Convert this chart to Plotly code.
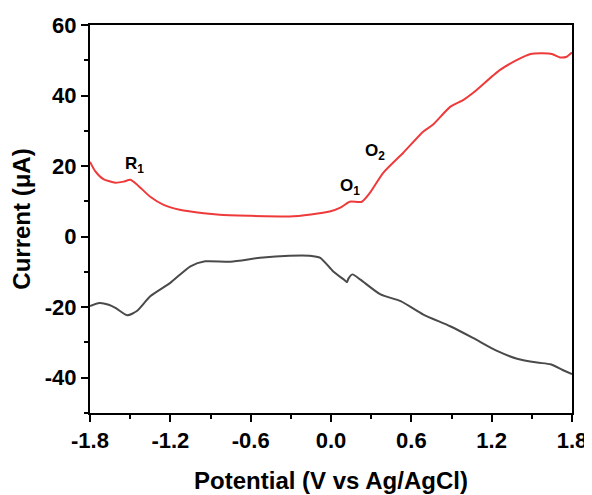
import plotly.graph_objects as go

# Red (oxidation scan) curve
red_x = [-1.80, -1.76, -1.70, -1.61, -1.55, -1.50, -1.45, -1.35, -1.25, -1.13, -0.95, -0.83, -0.60, -0.38, -0.31,
         -0.15, -0.01, 0.07, 0.14, 0.23, 0.29, 0.39, 0.54, 0.69, 0.76, 0.89, 0.99, 1.06, 1.26, 1.39, 1.49, 1.58, 1.65, 1.71, 1.76, 1.80]
red_y = [21.2, 18.5, 16.3, 15.3, 15.6, 16.1, 14.8, 11.3, 9.0, 7.6, 6.6, 6.2, 5.9, 5.7, 5.7,
         6.3, 7.1, 8.2, 9.9, 9.9, 12.4, 18.1, 23.8, 29.8, 31.7, 36.8, 38.8, 40.7, 47.2, 50.1, 51.8, 52.0, 51.8, 50.8, 51.0, 52.2]

# Black (reduction scan) curve
blk_x = [-1.80, -1.73, -1.66, -1.61, -1.52, -1.45, -1.35, -1.20, -1.05, -0.94, -0.75, -0.53, -0.31, -0.16, -0.08,
         0.015, 0.10, 0.12, 0.13, 0.16, 0.22, 0.37, 0.52, 0.69, 0.89, 1.06, 1.24, 1.39, 1.54, 1.64, 1.73, 1.80]
blk_y = [-19.7, -18.8, -19.3, -20.2, -22.3, -21.1, -16.9, -13.1, -8.4, -7.0, -7.1, -6.0, -5.4, -5.4, -6.0,
         -9.8, -12.3, -12.9, -11.9, -10.7, -12.2, -16.4, -18.3, -22.1, -25.4, -28.7, -32.4, -34.6, -35.7, -36.2, -37.8, -39.0]

x_ticks = [-1.8, -1.2, -0.6, 0.0, 0.6, 1.2, 1.8]
x_tick_labels = ["-1.8", "-1.2", "-0.6", "0.0", "0.6", "1.2", "1.8"]
y_ticks = [-40, -20, 0, 20, 40, 60]

peak_labels = ["R<sub>1</sub>", "O<sub>1</sub>", "O<sub>2</sub>"]
peak_x = [-1.47, 0.14, 0.33]
peak_y = [20.4, 14.1, 24.0]

FONT = "Liberation Sans, Arial, sans-serif"

fig = go.Figure()
fig.add_trace(go.Scatter(x=blk_x, y=blk_y, mode="lines",
                         line=dict(color="#4a4a4a", width=2, shape="spline", smoothing=0.6),
                         showlegend=False))
fig.add_trace(go.Scatter(x=red_x, y=red_y, mode="lines",
                         line=dict(color="#ee3a3a", width=2, shape="spline", smoothing=0.6),
                         showlegend=False))

for t, px, py in zip(peak_labels, peak_x, peak_y):
    fig.add_annotation(x=px, y=py, text="<b>" + t + "</b>", showarrow=False,
                       font=dict(family=FONT, size=17, color="black"))

axis_common = dict(showline=True, linecolor="black", linewidth=2, mirror=True,
                   ticks="outside", tickwidth=2, ticklen=7, tickcolor="black",
                   showgrid=False, zeroline=False, automargin=False,
                   tickfont=dict(family=FONT, size=22, color="black"))

fig.update_xaxes(range=[-1.8, 1.8], tickvals=x_ticks, ticktext=["<b>%s</b>" % s for s in x_tick_labels],
                 minor=dict(ticks="outside", ticklen=4, tickwidth=2, tickcolor="black", dtick=0.3, tick0=-1.5),
                 title=dict(text="<b>Potential (V vs Ag/AgCl)</b>", font=dict(family=FONT, size=24, color="black"), standoff=20),
                 **axis_common)
fig.update_yaxes(range=[-50, 60], tickvals=y_ticks, ticktext=["<b>%d</b>" % v for v in y_ticks],
                 minor=dict(ticks="outside", ticklen=4, tickwidth=2, tickcolor="black", dtick=20, tick0=-30),
                 title=dict(text="<b>Current (μA)</b>", font=dict(family=FONT, size=24, color="black"), standoff=8),
                 **axis_common)

# page body has an 8px default margin, so the figure is 8px smaller and margins shifted
fig.update_layout(width=584, height=487, plot_bgcolor="white", paper_bgcolor="white",
                  margin=dict(l=82, r=20, t=17, b=82), font=dict(family=FONT))

fig.write_html("out.html")
